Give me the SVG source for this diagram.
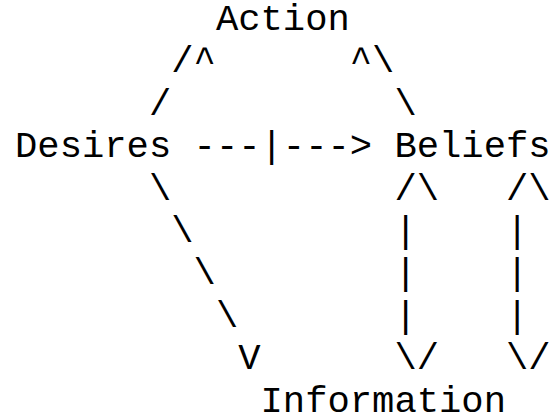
<svg xmlns="http://www.w3.org/2000/svg" width="550" height="416" viewBox="0 0 550 416">
<style>
text{font-family:"Liberation Mono","Courier New",monospace;font-size:37.2px;fill:#000;white-space:pre}
</style>
<rect width="550" height="416" fill="#fff"/>
<g id="node-action"><text x="215.9" y="30">Action</text></g>
<g id="node-desires"><text x="15" y="157.2">Desires</text></g>
<g id="node-beliefs"><text x="394.4" y="157.2">Beliefs</text></g>
<g id="node-information"><text x="260.5" y="411.6">Information</text></g>
<g id="connectors">
<text x="171.2" y="72.4">/^</text>
<text x="349.8" y="72.4">^\</text>
<text x="148.9" y="114.8">/</text>
<text x="394.4" y="114.8">\</text>
<text x="193.6" y="157.2">---|---&gt;</text>
<text x="148.9" y="199.6">\</text>
<text x="394.4" y="199.6">/\</text>
<text x="506" y="199.6">/\</text>
<text x="171.2" y="242">\</text>
<text x="394.4" y="242">|</text>
<text x="506" y="242">|</text>
<text x="193.6" y="284.4">\</text>
<text x="394.4" y="284.4">|</text>
<text x="506" y="284.4">|</text>
<text x="215.9" y="326.8">\</text>
<text x="394.4" y="326.8">|</text>
<text x="506" y="326.8">|</text>
<text x="238.2" y="369.2">V</text>
<text x="394.4" y="369.2">\/</text>
<text x="506" y="369.2">\/</text>
</g>
</svg>
